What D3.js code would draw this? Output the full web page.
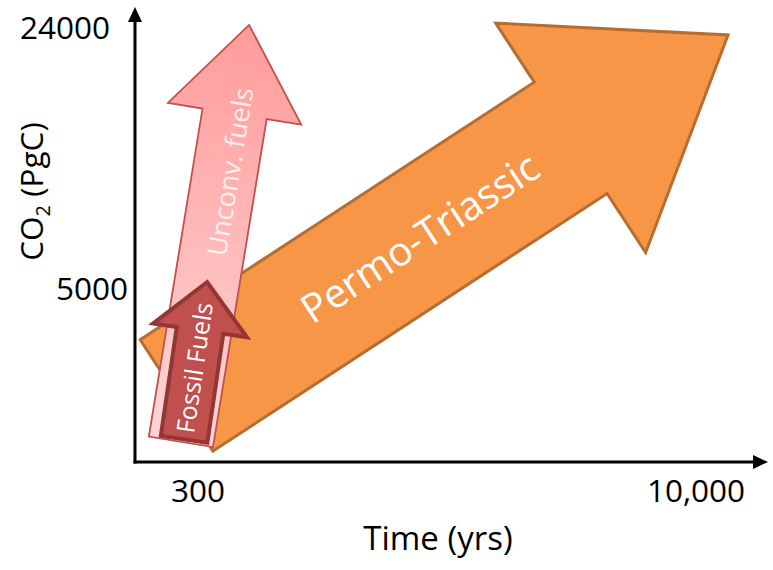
<!DOCTYPE html>
<html>
<head>
<meta charset="utf-8">
<script src="https://cdn.jsdelivr.net/npm/d3@7"></script>
<style>
  html, body { margin: 0; padding: 0; background: #ffffff; }
  #chart { width: 773px; height: 570px; }
</style>
</head>
<body>
<div id="chart"></div>
<script>
// ==========================================================================
// DATA (schematic: time in years, carbon in PgC)
// ==========================================================================

const xTickValues = [300, 10000];
const xTickLabels = ['300', '10,000'];
const yTickValues = [24000, 5000];
const yTickLabels = ['24000', '5000'];

const arrowNames = ['Permo-Triassic', 'Unconv. fuels', 'Fossil Fuels'];
const arrowTailTime = [258, 266, 272];
const arrowTailCO2 = [2630, 1990, 2020];
const arrowTipTime = [12530, 430, 320];
const arrowTipCO2 = [22950, 24370, 5200];

// ==========================================================================
// CONFIG
// ==========================================================================

const CONFIG = {
    width: 773,
    height: 570,
    font: '"Open Sans", "DejaVu Sans", sans-serif',
    axis: { left: 135, bottom: 462, top: 7, right: 768, stroke: 3, head: 15, headHalf: 7 },
    xRange: [198, 696],
    yRange: [288.5, 27.5],
    yLabelRight: { 24000: 110, 5000: 128 },
    arrows: [
        { shaft: 133, head: 274, headLen: 188, fill: '#f79646', stroke: '#b66d31', strokeWidth: 3,
          labelAt: 0.44, labelOffset: 1, fontSize: 40, textFill: '#ffffff', textOpacity: 1 },
        { shaft: 65, head: 135, headLen: 90, fill: 'url(#pinkGrad)', stroke: '#c0504d', strokeWidth: 1.8,
          labelAt: 0.65, labelOffset: 5, fontSize: 27, textFill: '#ffffff', textOpacity: 0.8 },
        { shaft: 47, head: 95, headLen: 49, fill: '#c0504d', stroke: '#943634', strokeWidth: 4,
          labelAt: 0.455, labelOffset: 0, fontSize: 25, textFill: '#ffffff', textOpacity: 1 }
    ]
};

// ==========================================================================
// SCALES
// ==========================================================================

const xScale = d3.scaleLog().domain(d3.extent(xTickValues)).range(CONFIG.xRange);
const yScale = d3.scaleLog().domain([5000, 24000]).range(CONFIG.yRange);

const svg = d3.select('#chart')
    .append('svg')
    .attr('width', CONFIG.width)
    .attr('height', CONFIG.height)
    .style('font-family', CONFIG.font);

// gradiente do "Unconv. fuels"
const defs = svg.append('defs');

// Monta as setas a partir dos arrays
const arrows = arrowNames.map((name, i) => {
    const tail = [xScale(arrowTailTime[i]), yScale(arrowTailCO2[i])];
    const tip = [xScale(arrowTipTime[i]), yScale(arrowTipCO2[i])];
    return { name, tail, tip, style: CONFIG.arrows[i] };
});

const pink = arrows[1];
const grad = defs.append('linearGradient')
    .attr('id', 'pinkGrad')
    .attr('gradientUnits', 'userSpaceOnUse')
    .attr('x1', pink.tail[0]).attr('y1', pink.tail[1])
    .attr('x2', pink.tip[0]).attr('y2', pink.tip[1]);
grad.append('stop').attr('offset', '0%').attr('stop-color', '#ffd6d6');
grad.append('stop').attr('offset', '100%').attr('stop-color', '#ff9b9b');

/**
 * Polygon of a block arrow from tail to tip
 */
function arrowPoints(a) {
    const dx = a.tip[0] - a.tail[0];
    const dy = a.tip[1] - a.tail[1];
    const len = Math.hypot(dx, dy);
    const u = [dx / len, dy / len];
    const n = [-u[1], u[0]];
    const s = a.style;
    const base = [a.tip[0] - u[0] * s.headLen, a.tip[1] - u[1] * s.headLen];
    const p = (pt, k) => [pt[0] + n[0] * k, pt[1] + n[1] * k];
    return [
        p(a.tail, s.shaft / 2),
        p(base, s.shaft / 2),
        p(base, s.head / 2),
        a.tip,
        p(base, -s.head / 2),
        p(base, -s.shaft / 2),
        p(a.tail, -s.shaft / 2)
    ];
}

function labelPos(a) {
    const dx = a.tip[0] - a.tail[0];
    const dy = a.tip[1] - a.tail[1];
    const len = Math.hypot(dx, dy);
    const u = [dx / len, dy / len];
    const n = [-u[1], u[0]];
    const s = a.style;
    return {
        x: a.tail[0] + u[0] * len * s.labelAt + n[0] * s.labelOffset,
        y: a.tail[1] + u[1] * len * s.labelAt + n[1] * s.labelOffset,
        angle: Math.atan2(dy, dx) * 180 / Math.PI
    };
}

// ==========================================================================
// ARROWS
// ==========================================================================

const arrowG = svg.selectAll('.arrow')
    .data(arrows)
    .enter().append('g')
    .attr('class', 'arrow');

arrowG.append('polygon')
    .attr('points', d => arrowPoints(d).map(pt => pt.join(',')).join(' '))
    .attr('fill', d => d.style.fill)
    .attr('stroke', d => d.style.stroke)
    .attr('stroke-width', d => d.style.strokeWidth)
    .attr('stroke-linejoin', 'miter');

arrowG.append('text')
    .attr('transform', d => {
        const l = labelPos(d);
        return `translate(${l.x},${l.y}) rotate(${l.angle})`;
    })
    .attr('text-anchor', 'middle')
    .attr('dy', '0.36em')
    .style('font-size', d => `${d.style.fontSize}px`)
    .style('fill', d => d.style.textFill)
    .style('fill-opacity', d => d.style.textOpacity)
    .text(d => d.name);

// ==========================================================================
// AXES
// ==========================================================================

const ax = CONFIG.axis;
const axisG = svg.append('g').attr('class', 'axes');

axisG.append('line')
    .attr('x1', ax.left).attr('y1', ax.bottom + ax.stroke / 2)
    .attr('x2', ax.left).attr('y2', ax.top + ax.head - 2)
    .attr('stroke', '#000').attr('stroke-width', ax.stroke);
axisG.append('polygon')
    .attr('points', `${ax.left - ax.headHalf},${ax.top + ax.head} ${ax.left + ax.headHalf},${ax.top + ax.head} ${ax.left},${ax.top}`)
    .attr('fill', '#000');

axisG.append('line')
    .attr('x1', ax.left - ax.stroke / 2).attr('y1', ax.bottom)
    .attr('x2', ax.right - ax.head + 2).attr('y2', ax.bottom)
    .attr('stroke', '#000').attr('stroke-width', ax.stroke);
axisG.append('polygon')
    .attr('points', `${ax.right - ax.head},${ax.bottom - ax.headHalf} ${ax.right - ax.head},${ax.bottom + ax.headHalf} ${ax.right},${ax.bottom}`)
    .attr('fill', '#000');

// Rótulos do eixo X
axisG.selectAll('.x-label')
    .data(xTickValues)
    .enter().append('text')
    .attr('class', 'x-label')
    .attr('x', d => xScale(d))
    .attr('y', 502)
    .attr('text-anchor', 'middle')
    .style('font-size', '31.5px')
    .style('fill', '#000')
    .text((d, i) => xTickLabels[i]);

// Rótulos do eixo Y
axisG.selectAll('.y-label')
    .data(yTickValues)
    .enter().append('text')
    .attr('class', 'y-label')
    .attr('x', d => CONFIG.yLabelRight[d])
    .attr('y', d => yScale(d) + 11.5)
    .attr('text-anchor', 'end')
    .style('font-size', '31.5px')
    .style('fill', '#000')
    .text((d, i) => yTickLabels[i]);

// Títulos
svg.append('text')
    .attr('x', 438)
    .attr('y', 550)
    .attr('text-anchor', 'middle')
    .style('font-size', '33px')
    .style('fill', '#000')
    .text('Time (yrs)');

const yTitle = svg.append('text')
    .attr('transform', 'translate(43,191.5) rotate(-90)')
    .attr('text-anchor', 'middle')
    .style('font-size', '31.5px')
    .style('fill', '#000');
yTitle.append('tspan').text('CO');
yTitle.append('tspan').attr('dy', 7).style('font-size', '20px').text('2');
yTitle.append('tspan').attr('dy', -7).text(' (PgC)');
</script>
</body>
</html>
